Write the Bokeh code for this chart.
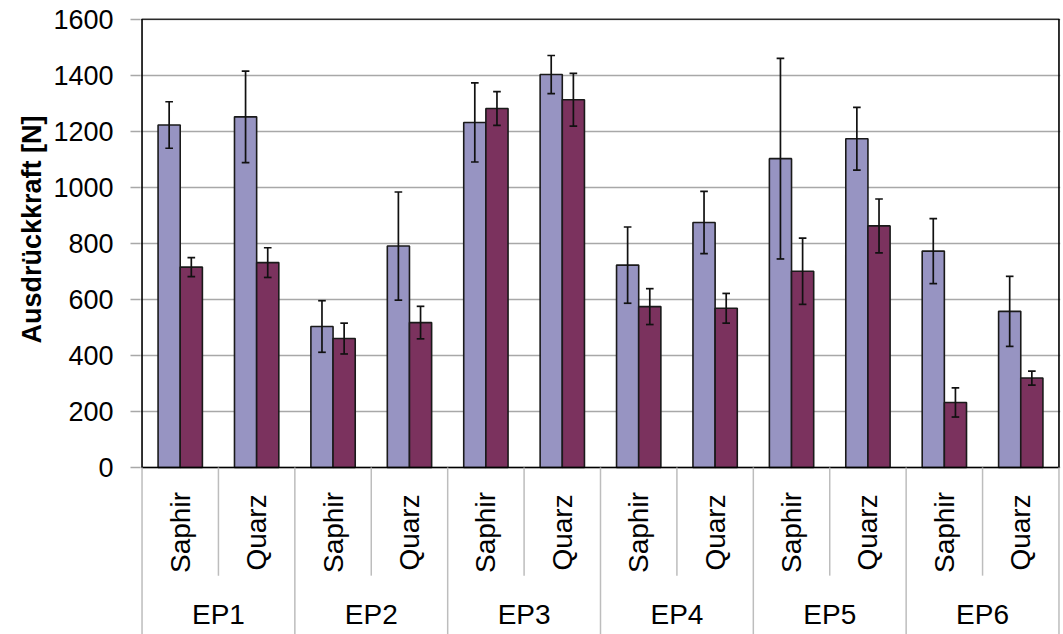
import numpy as np
from bokeh.plotting import figure
from bokeh.models import ColumnDataSource, FactorRange, Range1d, FixedTicker, Title
from bokeh.transform import dodge
from bokeh.embed import file_html
from bokeh.resources import INLINE
from bokeh.core.properties import value

# ---------------- data ----------------
groups = ["EP1", "EP2", "EP3", "EP4", "EP5", "EP6"]
materials = ["Saphir", "Quarz"]

series_a = [1222, 1251, 503, 790, 1231, 1402, 722, 874, 1102, 1173, 772, 557]
series_a_err = [83, 163, 92, 193, 141, 68, 136, 111, 358, 112, 116, 125]
series_b = [715, 731, 460, 517, 1281, 1312, 574, 568, 700, 862, 232, 319]
series_b_err = [34, 53, 55, 58, 60, 94, 64, 53, 118, 96, 52, 25]

y_ticks = [0, 200, 400, 600, 800, 1000, 1200, 1400, 1600]
y_label = "Ausdrückkraft [N]"

color_a = "#9794C2"
color_b = "#7B325E"
FONT = "Liberation Sans"

factors = [(g, m) for g in groups for m in materials]
n = len(factors)

a = np.array(series_a, dtype=float)
ae = np.array(series_a_err, dtype=float)
b = np.array(series_b, dtype=float)
be = np.array(series_b_err, dtype=float)

src = ColumnDataSource(dict(
    x=factors,
    a=a, a_lo=a - ae, a_hi=a + ae,
    b=b, b_lo=b - be, b_hi=b + be,
))

Y_TOP = y_ticks[-1]
# the category-label band below the value axis lives in the negative part of the range
Y_BOTTOM = -596

x_range = FactorRange(*factors, group_padding=0, factor_padding=0,
                      range_padding=0.02, range_padding_units="absolute")

p = figure(width=1063, height=634, x_range=x_range, y_range=Range1d(Y_BOTTOM, Y_TOP + 2),
           output_backend="svg", toolbar_location=None, x_axis_location=None,
           min_border_left=140, min_border_right=3, min_border_top=18,
           min_border_bottom=0)
p.outline_line_color = None
p.background_fill_color = "white"
p.border_fill_color = "white"

p.xgrid.grid_line_color = None
p.ygrid.ticker = FixedTicker(ticks=y_ticks)
p.ygrid.grid_line_color = "#A8A8A8"
p.ygrid.grid_line_width = 1.4

ax = p.yaxis[0]
ax.ticker = FixedTicker(ticks=y_ticks)
ax.bounds = (0, Y_TOP)
ax.axis_line_color = None
ax.major_tick_line_color = "#A8A8A8"
ax.major_tick_line_width = 1.4
ax.major_tick_out = 10
ax.major_tick_in = 0
ax.minor_tick_line_color = None
ax.major_label_text_font = FONT
ax.major_label_text_font_size = "27px"
ax.major_label_text_color = "black"
ax.major_label_standoff = 17

# y-axis title, placed along the value part of the axis
p.add_layout(Title(text=y_label, align="right", offset=97,
                   text_font=FONT, text_font_size="27px", text_font_style="bold",
                   text_color="black", standoff=7), "left")

off = 0.145
bw = 0.29
cap = 0.05

p.vbar(x=dodge("x", -off, range=p.x_range), top="a", width=bw, bottom=0, source=src,
       fill_color=color_a, line_color="#1a1a1a", line_width=1.6)
p.vbar(x=dodge("x", off, range=p.x_range), top="b", width=bw, bottom=0, source=src,
       fill_color=color_b, line_color="#1a1a1a", line_width=1.6)

for o, lo, hi in [(-off, "a_lo", "a_hi"), (off, "b_lo", "b_hi")]:
    p.segment(x0=dodge("x", o, range=p.x_range), x1=dodge("x", o, range=p.x_range),
              y0=lo, y1=hi, source=src, line_color="#111111", line_width=1.7)
    for end in (lo, hi):
        p.segment(x0=dodge("x", o - cap, range=p.x_range), x1=dodge("x", o + cap, range=p.x_range),
                  y0=end, y1=end, source=src, line_color="#111111", line_width=1.7)

# plot-area border
p.quad(left=0, right=n, bottom=0, top=Y_TOP, fill_color=None, line_color="black", line_width=1.6)

# ---------------- category label band ----------------
bounds = np.arange(n + 1)
outer = bounds[::2]
inner = bounds[1::2]
p.segment(x0=outer, x1=outer, y0=Y_BOTTOM, y1=0, line_color="#BDBDBD", line_width=1.5)
p.segment(x0=inner, x1=inner, y0=-386, y1=0, line_color="#BDBDBD", line_width=1.5)

p.text(x=factors, y=[-232] * n, text=[m for g, m in factors], angle=np.pi / 2,
       text_align="center", text_baseline="middle", text_font=value(FONT),
       text_font_size="28px", text_color="black")
p.text(x=groups, y=[-525] * len(groups), text=groups,
       text_align="center", text_baseline="middle", text_font=value(FONT),
       text_font_size="28px", text_color="black")

open("out.html", "w").write(file_html(p, INLINE))
